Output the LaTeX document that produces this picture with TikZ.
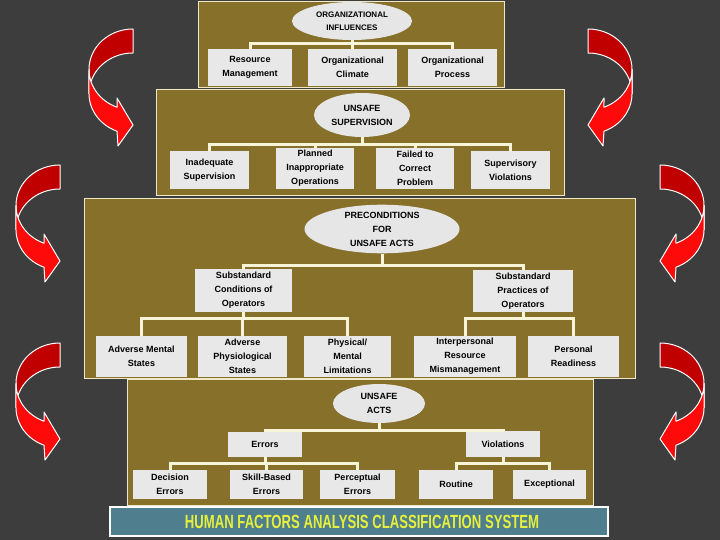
\documentclass[tikz,border=0pt]{standalone}
\usepackage{fontspec}
\setmainfont{Liberation Sans}
\usepackage{graphicx}
\usetikzlibrary{shapes.geometric}
\definecolor{bgc}{HTML}{3D3D3D}
\definecolor{olivec}{HTML}{86702A}
\definecolor{panelline}{HTML}{EEE8C8}
\definecolor{boxc}{HTML}{E8E8E8}
\definecolor{ellc}{HTML}{E6E6E6}
\definecolor{connc}{HTML}{F8F4D8}
\definecolor{bannerc}{HTML}{4F7E8E}
\definecolor{bannertext}{HTML}{E6F03C}
\definecolor{arrdark}{HTML}{C00000}
\definecolor{arrbright}{HTML}{FF0A0A}
\tikzset{
  panel/.style={fill=olivec, draw=panelline, line width=0.8pt},
  bx/.style={rectangle, fill=boxc, inner sep=0pt, align=center,
    font=\fontsize{9}{14}\selectfont\bfseries, text=black},
  ell/.style={ellipse, fill=ellc, inner sep=0pt, align=center,
    font=\fontsize{9}{14}\selectfont\bfseries, text=black},
  conn/.style={draw=connc, line width=3pt},
  arrpart/.style={draw=white, line width=1pt, line join=round},
  curvarrow/.pic={
    % back band (dark)
    \path[arrpart, fill=arrdark] (0,0)
      arc[start angle=90, end angle=180, x radius=44pt, y radius=40.5pt]
      -- (-44,64.5)
      arc[start angle=180, end angle=90, x radius=44pt, y radius=40.5pt]
      -- cycle;
    % front band with head (bright)
    \path[arrpart, fill=arrbright] (-44,40.5)
      arc[start angle=180, end angle=248.7, x radius=44pt, y radius=40.5pt]
      -- (-16,69) -- (0,96) -- (-15,117) -- (-16,102.2)
      arc[start angle=248.7, end angle=180, x radius=44pt, y radius=40.5pt]
      -- cycle;
  }
}
\begin{document}
\begin{tikzpicture}[x=1pt,y=-1pt]
\useasboundingbox (0,0) rectangle (720,540);
\fill[bgc] (0,0) rectangle (720,540);

% panels
\path[panel] (198,1) rectangle (504,87);
\path[panel] (156,89) rectangle (564,195);
\path[panel] (84,198) rectangle (635,378);
\path[panel] (127,379) rectangle (593,505);

% ---- panel 1
\node[ell, minimum width=120pt, minimum height=38pt,
  font=\fontsize{8}{12.5}\selectfont\bfseries] (oi) at (352,21) {ORGANIZATIONAL\\INFLUENCES};
\node[bx, minimum width=84pt, minimum height=37pt] (rm) at (250,67.5) {Resource\\Management};
\node[bx, minimum width=89pt, minimum height=37pt] (oc) at (352.5,67.5) {Organizational\\Climate};
\node[bx, minimum width=89pt, minimum height=37pt] (op) at (452.5,67.5) {Organizational\\Process};
\draw[conn] (oi.south) -- ++(0,3) -| (rm.north);
\draw[conn] (oi.south) -- ++(0,3) -| (oc.north);
\draw[conn] (oi.south) -- ++(0,3) -| (op.north);

% ---- panel 2
\node[ell, minimum width=96pt, minimum height=44pt] (us) at (362,115) {UNSAFE\\SUPERVISION};
\node[bx, minimum width=79pt, minimum height=38pt] (is) at (209.5,170) {Inadequate\\Supervision};
\node[bx, minimum width=78pt, minimum height=41pt] (pio) at (315,168.5) {Planned\\Inappropriate\\Operations};
\node[bx, minimum width=78pt, minimum height=41pt] (fcp) at (415,168.5) {Failed to\\Correct\\Problem};
\node[bx, minimum width=79pt, minimum height=38pt] (sv) at (510.5,170) {Supervisory\\Violations};
\foreach \c in {is,pio,fcp,sv}
  \draw[conn] (us.south) -- ++(0,7) -| (\c.north);

% ---- panel 3
\node[ell, minimum width=155pt, minimum height=48pt] (pua) at (382,229) {PRECONDITIONS\\FOR\\UNSAFE ACTS};
\node[bx, minimum width=97pt, minimum height=43pt] (sc) at (243.5,290.5) {Substandard\\Conditions of\\Operators};
\node[bx, minimum width=100pt, minimum height=42pt] (sp) at (523,291) {Substandard\\Practices of\\Operators};
\node[bx, minimum width=91pt, minimum height=41pt] (ams) at (141.5,356.5) {Adverse Mental\\States};
\node[bx, minimum width=89pt, minimum height=41pt] (aps) at (242.5,356.5) {Adverse\\Physiological\\States};
\node[bx, minimum width=87pt, minimum height=41pt] (pml) at (347.5,356.5) {Physical/\\Mental\\Limitations};
\node[bx, minimum width=102pt, minimum height=41pt] (irm) at (465,356.5) {Interpersonal\\Resource\\Mismanagement};
\node[bx, minimum width=91pt, minimum height=41pt] (pr) at (573.5,356.5) {Personal\\Readiness};
\draw[conn] (pua.south) -- ++(0,12) -| (sc.north);
\draw[conn] (pua.south) -- ++(0,12) -| (sp.north);
\foreach \c in {ams,aps,pml}
  \draw[conn] (sc.south) -- ++(0,6) -| (\c.north);
\foreach \c in {irm,pr}
  \draw[conn] (sp.south) -- ++(0,6) -| (\c.north);

% ---- panel 4
\node[ell, minimum width=92pt, minimum height=39pt] (ua) at (379,403.5) {UNSAFE\\ACTS};
\node[bx, minimum width=74pt, minimum height=25pt] (err) at (265,444.5) {Errors};
\node[bx, minimum width=74pt, minimum height=26pt] (vio) at (503,444) {Violations};
\node[bx, minimum width=74pt, minimum height=29pt] (de) at (170,484.5) {Decision\\Errors};
\node[bx, minimum width=73pt, minimum height=29pt] (sbe) at (266.5,484.5) {Skill-Based\\Errors};
\node[bx, minimum width=75pt, minimum height=29pt] (pe) at (357.5,484.5) {Perceptual\\Errors};
\node[bx, minimum width=74pt, minimum height=29pt] (rou) at (456,484.5) {Routine};
\node[bx, minimum width=73pt, minimum height=29pt] (exc) at (549.5,484.5) {Exceptional};
\draw[conn] (ua.south) -- ++(0,7) -| (err.north);
\draw[conn] (ua.south) -- ++(0,7) -| (vio.north);
\foreach \c in {de,sbe,pe}
  \draw[conn] (err.south) -- ++(0,6) -| (\c.north);
\foreach \c in {rou,exc}
  \draw[conn] (vio.south) -- ++(0,6) -| (\c.north);

% ---- banner
\node[rectangle, fill=bannerc, draw=white, line width=1.5pt, minimum width=498pt,
  minimum height=29pt, inner sep=0pt] (ban) at (359,521.5) {};
\node[text=bannertext, inner sep=0pt] (bantext) at (362,521.5)
  {\resizebox{354pt}{13.3pt}{\bfseries HUMAN FACTORS ANALYSIS CLASSIFICATION SYSTEM}};

% ---- curved arrows
\pic at (133,29) {curvarrow};
\pic at (60,165) {curvarrow};
\pic at (60,343) {curvarrow};
\pic[xscale=-1] at (588,29) {curvarrow};
\pic[xscale=-1] at (660,165) {curvarrow};
\pic[xscale=-1] at (660,343) {curvarrow};
\end{tikzpicture}
\end{document}
